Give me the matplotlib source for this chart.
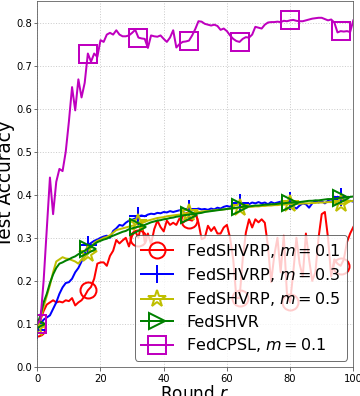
import numpy as np
import matplotlib
matplotlib.use("Agg")
from matplotlib import pyplot as plt

rounds = np.arange(0, 101)

acc_m01 = [0.09, 0.11, 0.13, 0.145, 0.15, 0.155, 0.15, 0.152, 0.15, 0.155,
           0.153, 0.16, 0.143, 0.15, 0.155, 0.165, 0.178, 0.186, 0.205, 0.24,
           0.243, 0.243, 0.235, 0.258, 0.27, 0.295, 0.287, 0.294, 0.30, 0.28,
           0.305, 0.315, 0.30, 0.335, 0.29, 0.31, 0.285, 0.32, 0.34, 0.325,
           0.315, 0.34, 0.33, 0.335, 0.33, 0.345, 0.335, 0.34, 0.342, 0.34,
           0.36, 0.335, 0.297, 0.30, 0.328, 0.316, 0.325, 0.31, 0.31, 0.324,
           0.33, 0.30, 0.25, 0.16, 0.16, 0.25, 0.312, 0.343, 0.324, 0.343,
           0.336, 0.343, 0.335, 0.28, 0.197, 0.26, 0.30, 0.22, 0.305, 0.17,
           0.15, 0.22, 0.30, 0.24, 0.21, 0.31, 0.25, 0.20, 0.22, 0.30,
           0.355, 0.36, 0.30, 0.21, 0.25, 0.24, 0.235, 0.25, 0.29, 0.31,
           0.325]

acc_m03 = [0.085, 0.10, 0.11, 0.115, 0.12, 0.135, 0.15, 0.17, 0.185, 0.195,
           0.197, 0.205, 0.22, 0.23, 0.245, 0.262, 0.283, 0.288, 0.293, 0.296,
           0.30, 0.303, 0.305, 0.30, 0.316, 0.322, 0.33, 0.328, 0.335, 0.34,
           0.342, 0.345, 0.35, 0.352, 0.35, 0.354, 0.356, 0.355, 0.358, 0.357,
           0.36, 0.359, 0.362, 0.36, 0.362, 0.364, 0.362, 0.365, 0.366, 0.364,
           0.366, 0.368, 0.366, 0.367, 0.365, 0.368, 0.366, 0.37, 0.368, 0.372,
           0.374, 0.372, 0.378, 0.38, 0.382, 0.378, 0.38, 0.378, 0.382, 0.38,
           0.383, 0.38, 0.382, 0.378, 0.383, 0.38, 0.382, 0.384, 0.38, 0.383,
           0.385, 0.372, 0.368, 0.375, 0.38, 0.378, 0.37, 0.38, 0.386, 0.382,
           0.385, 0.38, 0.386, 0.384, 0.388, 0.39, 0.394, 0.386, 0.384, 0.386,
           0.384]

acc_m05 = [0.09, 0.11, 0.14, 0.165, 0.19, 0.22, 0.245, 0.25, 0.255, 0.252,
           0.251, 0.248, 0.245, 0.24, 0.25, 0.256, 0.262, 0.278, 0.288, 0.293,
           0.296, 0.30, 0.302, 0.306, 0.312, 0.318, 0.32, 0.322, 0.324, 0.326,
           0.328, 0.33, 0.335, 0.338, 0.337, 0.34, 0.342, 0.344, 0.346, 0.347,
           0.348, 0.35, 0.351, 0.352, 0.353, 0.354, 0.355, 0.356, 0.358, 0.358,
           0.359, 0.36, 0.361, 0.362, 0.362, 0.363, 0.364, 0.365, 0.365, 0.366,
           0.367, 0.368, 0.368, 0.369, 0.37, 0.37, 0.371, 0.372, 0.372, 0.373,
           0.373, 0.374, 0.374, 0.375, 0.375, 0.376, 0.376, 0.377, 0.377, 0.378,
           0.378, 0.378, 0.379, 0.379, 0.38, 0.38, 0.38, 0.381, 0.381, 0.382,
           0.382, 0.382, 0.383, 0.383, 0.383, 0.38, 0.378, 0.38, 0.383, 0.385,
           0.386]

acc_shvr = [0.10, 0.12, 0.15, 0.17, 0.195, 0.215, 0.23, 0.24, 0.243, 0.247,
            0.25, 0.254, 0.257, 0.262, 0.266, 0.27, 0.275, 0.28, 0.285, 0.29,
            0.293, 0.296, 0.298, 0.302, 0.305, 0.308, 0.311, 0.314, 0.316, 0.32,
            0.322, 0.324, 0.326, 0.328, 0.33, 0.333, 0.336, 0.338, 0.34, 0.341,
            0.343, 0.344, 0.346, 0.347, 0.349, 0.35, 0.352, 0.353, 0.354, 0.355,
            0.356, 0.357, 0.358, 0.36, 0.361, 0.362, 0.363, 0.364, 0.365, 0.366,
            0.367, 0.368, 0.369, 0.37, 0.371, 0.372, 0.373, 0.373, 0.374, 0.375,
            0.375, 0.376, 0.377, 0.377, 0.378, 0.378, 0.379, 0.38, 0.38, 0.381,
            0.382, 0.382, 0.382, 0.383, 0.384, 0.385, 0.386, 0.386, 0.387, 0.387,
            0.388, 0.389, 0.39, 0.39, 0.391, 0.392, 0.393, 0.393, 0.394, 0.395,
            0.396]

acc_cpsl = [0.10, 0.11, 0.20, 0.32, 0.44, 0.355, 0.43, 0.46, 0.455, 0.50,
            0.57, 0.65, 0.596, 0.668, 0.626, 0.66, 0.728, 0.709, 0.728, 0.72,
            0.759, 0.755, 0.772, 0.776, 0.772, 0.782, 0.772, 0.768, 0.768, 0.77,
            0.776, 0.783, 0.765, 0.763, 0.762, 0.741, 0.77, 0.768, 0.767, 0.77,
            0.762, 0.755, 0.765, 0.782, 0.742, 0.75, 0.755, 0.756, 0.758, 0.77,
            0.785, 0.803, 0.802, 0.797, 0.795, 0.793, 0.795, 0.792, 0.783, 0.786,
            0.78, 0.77, 0.762, 0.757, 0.755, 0.762, 0.766, 0.765, 0.772, 0.79,
            0.788, 0.786, 0.795, 0.80, 0.801, 0.801, 0.802, 0.801, 0.804, 0.803,
            0.805, 0.806, 0.804, 0.803, 0.803, 0.805, 0.807, 0.809, 0.81, 0.811,
            0.811, 0.808, 0.805, 0.807, 0.80, 0.777, 0.78, 0.779, 0.78, 0.778,
            0.805]

labels = [r'FedSHVRP, $m=0.1$', r'FedSHVRP, $m=0.3$', r'FedSHVRP, $m=0.5$',
          'FedSHVR', r'FedCPSL, $m=0.1$']

fig = plt.figure(figsize=(5, 5.5), dpi=72)
ax = fig.add_axes([0.1036, 0.0732, 0.8778, 0.9243])

ax.plot(rounds, acc_m01, color='r', lw=2, marker='o', ms=16, mfc='none', mew=2, markevery=16, label=labels[0])
ax.plot(rounds, acc_m03, color='b', lw=2, marker='+', ms=18, mew=2, markevery=16, label=labels[1])
ax.plot(rounds, acc_m05, color='y', lw=2, marker='*', ms=18, mfc='none', mew=2, markevery=16, label=labels[2])
ax.plot(rounds, acc_shvr, color='g', lw=2, marker='>', ms=16, mfc='none', mew=2, markevery=16, label=labels[3])
ax.plot(rounds, acc_cpsl, color='m', lw=2, marker='s', ms=18, mfc='none', mew=2, markevery=16, label=labels[4])

ax.set_xlim(0, 100)
ax.set_ylim(0, 0.85)
ax.set_xticks([0, 20, 40, 60, 80, 100])
ax.set_yticks([0.0, 0.1, 0.2, 0.3, 0.4, 0.5, 0.6, 0.7, 0.8])
ax.tick_params(labelsize=10, color='0.3')
ax.tick_params(axis='y', pad=1.5)
ax.grid(True, linestyle=':', color='0.8', lw=1)
for s in ax.spines.values():
    s.set_color('0.35')

ax.set_xlabel(r'Round $r$', fontsize=17, labelpad=1)
ax.set_ylabel('Test Accuracy', fontsize=18.5)
ax.yaxis.set_label_coords(-0.069, 0.5)

leg = ax.legend(loc='lower right', fontsize=16, borderaxespad=0.4, labelspacing=0.4)
leg.get_frame().set_edgecolor('0.3')

fig.savefig('out.png', dpi=72)
